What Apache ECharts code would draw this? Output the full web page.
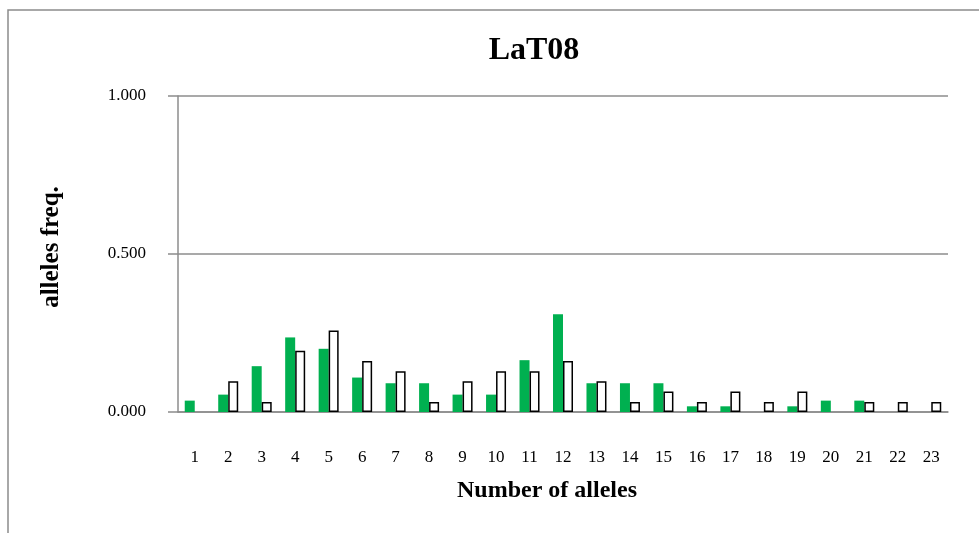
<!DOCTYPE html>
<html>
<head>
<meta charset="utf-8">
<script src="https://cdn.jsdelivr.net/npm/echarts@6/dist/echarts.min.js"></script>
<style>
html,body{margin:0;padding:0;background:#fff;}
#c{width:979px;height:533px;}
</style>
</head>
<body>
<div id="c"></div>
<script>
const categories = ['1','2','3','4','5','6','7','8','9','10','11','12','13','14','15','16','17','18','19','20','21','22','23'];
const greenValues = [0.036,0.055,0.145,0.236,0.200,0.109,0.091,0.091,0.055,0.055,0.164,0.309,0.091,0.091,0.091,0.018,0.018,null,0.018,0.036,0.036,null,null];
const whiteValues = [null,0.097,0.032,0.194,0.258,0.161,0.129,0.032,0.097,0.129,0.129,0.161,0.097,0.032,0.065,0.032,0.065,0.032,0.065,null,0.032,0.032,0.032];
const yTicks = [0, 0.5, 1];

const FONT = '"Liberation Serif", "Times New Roman", serif';
const chart = echarts.init(document.getElementById('c'));
chart.setOption({
  animation: false,
  backgroundColor: '#fff',
  grid: {left: 178, top: 96, right: 31, bottom: 121, containLabel: false},
  xAxis: {
    type: 'category',
    data: categories,
    axisLine: {show: true, lineStyle: {color: '#8c8c8c', width: 1.5}},
    axisTick: {show: false},
    axisLabel: {color: '#000', fontFamily: FONT, fontSize: 17, margin: 37}
  },
  yAxis: {
    type: 'value',
    min: yTicks[0], max: yTicks[yTicks.length-1], interval: 0.5,
    axisLine: {show: true, lineStyle: {color: '#8c8c8c', width: 1.5}},
    axisTick: {show: true, length: 10, lineStyle: {color: '#8c8c8c', width: 1.5}},
    splitLine: {show: true, lineStyle: {color: '#8c8c8c', width: 1.5}},
    axisLabel: {color: '#000', fontFamily: FONT, fontSize: 17, margin: 32,
      formatter: v => v.toFixed(3)}
  },
  series: [
    {type: 'bar', data: greenValues, barWidth: 10, barGap: '0%',
     itemStyle: {color: '#00B050'}},
    {type: 'bar', data: whiteValues, barWidth: 10, barGap: '0%',
     itemStyle: {color: '#ffffff', borderColor: '#000', borderWidth: 1.5}}
  ],
  graphic: [
    {type: 'rect', shape: {x: 8, y: 10, width: 1000, height: 600},
     style: {fill: 'none', stroke: '#8c8c8c', lineWidth: 1.5}, silent: true},
    {type: 'text', x: 534, y: 51,
     style: {text: 'LaT08', fill: '#000', font: 'bold 32px ' + FONT, textAlign: 'center', textVerticalAlign: 'middle'}},
    {type: 'text', x: 547, y: 491,
     style: {text: 'Number of alleles', fill: '#000', font: 'bold 24px ' + FONT, textAlign: 'center', textVerticalAlign: 'middle'}},
    {type: 'text', x: 52, y: 247, rotation: Math.PI/2,
     style: {text: 'alleles freq.', fill: '#000', font: 'bold 25px ' + FONT, textAlign: 'center', textVerticalAlign: 'middle'}}
  ]
});
</script>
</body>
</html>
